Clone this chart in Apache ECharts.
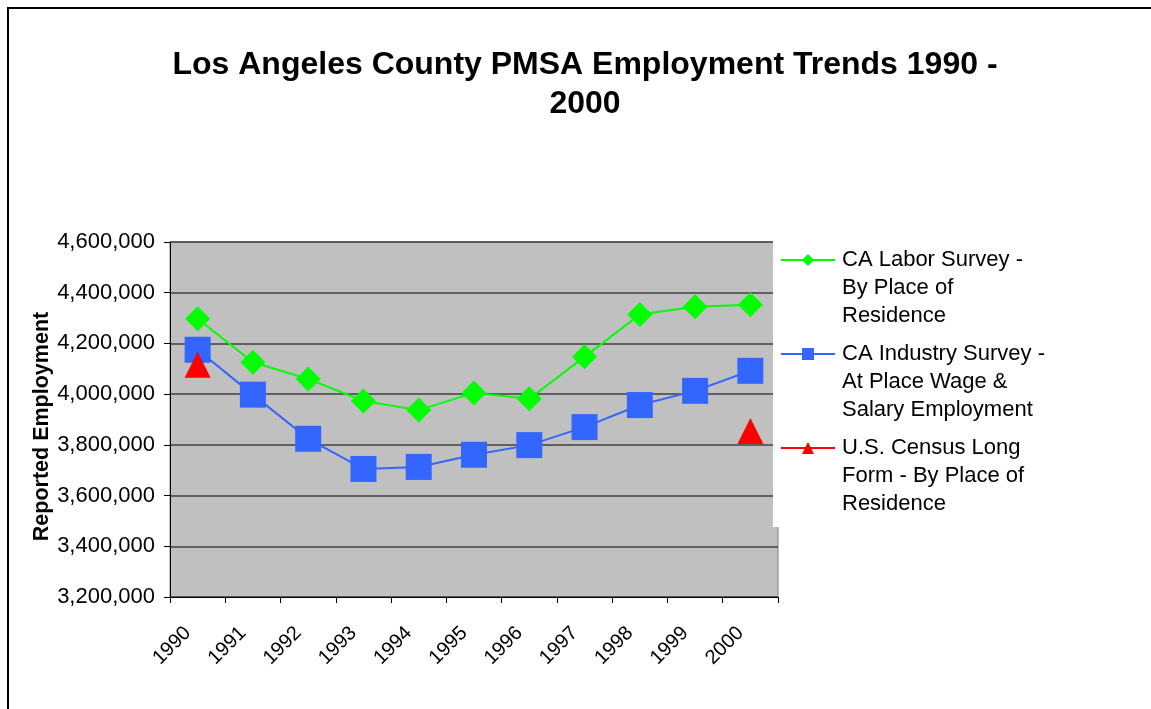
<!DOCTYPE html>
<html>
<head>
<meta charset="utf-8">
<script src="https://cdn.jsdelivr.net/npm/echarts@6/dist/echarts.min.js"></script>
<style>
  html, body { margin: 0; padding: 0; background: #fff; }
  #chart { width: 1151px; height: 709px; }
</style>
</head>
<body>
<div id="chart"></div>
<script>
var years = ['1990', '1991', '1992', '1993', '1994', '1995', '1996', '1997', '1998', '1999', '2000'];
var laborSurvey = [4297000, 4126000, 4060000, 3973000, 3937000, 4005000, 3982000, 4147000, 4314000, 4345000, 4353000];
var industrySurvey = [4175000, 3998000, 3824000, 3705000, 3713000, 3761000, 3799000, 3870000, 3957000, 4013000, 4092000];
var censusLongForm = [4116000, null, null, null, null, null, null, null, null, null, 3855000];
var seriesNames = [
    'CA Labor Survey -\nBy Place of\nResidence',
    'CA Industry Survey -\nAt Place Wage &\nSalary Employment',
    'U.S. Census Long\nForm - By Place of\nResidence'
];
var yTicks = [3200000, 3400000, 3600000, 3800000, 4000000, 4200000, 4400000, 4600000];

var font = 'Arial, "Liberation Sans", sans-serif';

function fmt(v) {
    return String(v).replace(/\B(?=(\d{3})+(?!\d))/g, ',');
}

// legend: one component per entry; two blank lines in front put the icon on the first text line
function legendAt(name, top) {
    return {
        data: [name],
        left: 780,
        top: top,
        orient: 'vertical',
        padding: 0,
        itemWidth: 54,
        itemHeight: 15,
        itemGap: 0,
        selectedMode: false,
        formatter: function (n) { return '\n\n' + n; },
        textStyle: {
            fontFamily: font,
            fontSize: 22,
            color: '#000',
            lineHeight: 28,
            padding: [0, 0, 0, 2]
        }
    };
}

var chart = echarts.init(document.getElementById('chart'));
var option = {
    animation: false,
    backgroundColor: '#fff',
    title: {
        text: 'Los Angeles County PMSA Employment Trends 1990 -\n2000',
        left: 580,
        top: 41,
        textAlign: 'center',
        textStyle: {
            fontFamily: font,
            fontSize: 32,
            fontWeight: 'bold',
            color: '#000',
            lineHeight: 39
        }
    },
    graphic: [
        {
            type: 'rect',
            shape: { x: 8, y: 8, width: 1200, height: 760 },
            style: { fill: 'none', stroke: '#000', lineWidth: 2 },
            z: 10
        },
        {
            type: 'rect',
            shape: { x: 773, y: 230, width: 380, height: 297 },
            style: { fill: '#fff' },
            z: 3
        }
    ],
    legend: [
        legendAt(seriesNames[0], 190),
        legendAt(seriesNames[1], 284),
        legendAt(seriesNames[2], 378)
    ],
    grid: {
        left: 170,
        top: 242,
        width: 608,
        height: 355,
        show: true,
        backgroundColor: '#c0c0c0',
        borderColor: '#808080',
        borderWidth: 1
    },
    xAxis: {
        type: 'category',
        data: years,
        boundaryGap: true,
        axisLine: { lineStyle: { color: '#000', width: 1 } },
        axisTick: { show: true, length: 6, lineStyle: { color: '#000' } },
        axisLabel: {
            rotate: 45,
            margin: 23,
            padding: [0, 14, 0, 0],
            interval: 0,
            fontFamily: font,
            fontSize: 20,
            color: '#000'
        }
    },
    yAxis: {
        type: 'value',
        min: yTicks[0],
        max: yTicks[yTicks.length - 1],
        interval: 200000,
        name: 'Reported Employment',
        nameLocation: 'middle',
        nameGap: 117,
        nameMoveOverlap: false,
        nameTextStyle: {
            fontFamily: font,
            fontSize: 21.5,
            fontWeight: 'bold',
            color: '#000',
            padding: [0, 14, 0, 0]
        },
        axisLine: { show: true, lineStyle: { color: '#000', width: 1 } },
        axisTick: { show: true, length: 6, lineStyle: { color: '#000' } },
        axisLabel: {
            margin: 15,
            fontFamily: font,
            fontSize: 22,
            color: '#000',
            formatter: fmt
        },
        splitLine: { show: true, lineStyle: { color: '#404040', width: 1.5 } }
    },
    series: [
        {
            name: seriesNames[0],
            type: 'line',
            data: laborSurvey,
            symbol: 'diamond',
            symbolSize: 25,
            itemStyle: { color: '#00ff00' },
            lineStyle: { color: '#00ff00', width: 2 }
        },
        {
            name: seriesNames[1],
            type: 'line',
            data: industrySurvey,
            symbol: 'rect',
            symbolSize: 26,
            itemStyle: { color: '#3366ff' },
            lineStyle: { color: '#3366ff', width: 2 }
        },
        {
            name: seriesNames[2],
            type: 'line',
            data: censusLongForm,
            connectNulls: false,
            symbol: 'triangle',
            symbolSize: 26,
            itemStyle: { color: '#ff0000' },
            lineStyle: { color: '#ff0000', width: 2 }
        }
    ]
};
chart.setOption(option);
</script>
</body>
</html>
